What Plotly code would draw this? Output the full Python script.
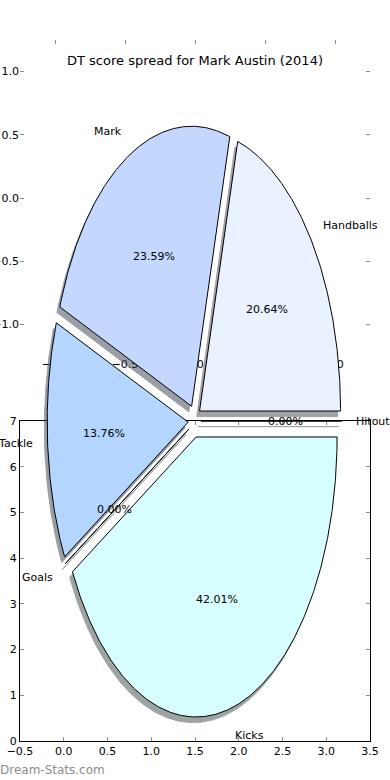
import numpy as np
import plotly.graph_objects as go

# ---------------- data ----------------
labels = ["Handballs", "Mark", "Tackle", "Goals", "Kicks", "Hitout"]
values = [20.64, 23.59, 13.76, 0.00, 42.01, 0.00]
colors = ["#eaf1ff", "#c4d8ff", "#b4d5ff", "#c8ecff", "#d8ffff", "#e4f4ff"]
title = "DT score spread for Mark Austin (2014)"
bottom_x_ticks = [-0.5, 0.0, 0.5, 1.0, 1.5, 2.0, 2.5, 3.0, 3.5]
bottom_y_ticks = [0, 1, 2, 3, 4, 5, 6, 7]
top_ticks = [-1.0, -0.5, 0.0, 0.5, 1.0]
watermark = "Dream-Stats.com"

# ---------------- layout constants ----------------
W, H = 390, 780
PIE_CX, PIE_CY = 194.5, 421.0     # pixel centre of the pie
PIE_RX, PIE_RY = 141.0, 280.0     # pixel radii (pie axes is stretched)
EXPLODE_X, EXPLODE_Y = 0.045, 0.059
SHADOW_DX, SHADOW_DY = -0.02, -0.02
LABEL_R, PCT_R = 1.1, 0.6
FONT = "DejaVu Sans"
TICKCOL = "rgba(0,0,0,0.45)"


def fx(p):
    return p / W


def fy(p):
    return 1 - p / H


def hex_rgb(h):
    h = h.lstrip("#")
    return tuple(int(h[i:i + 2], 16) for i in (0, 2, 4))


fig = go.Figure()

# dummy traces so the two decorative axes systems exist
fig.add_trace(go.Scatter(x=[None], y=[None], xaxis="x", yaxis="y", showlegend=False, hoverinfo="skip"))
fig.add_trace(go.Scatter(x=[None], y=[None], xaxis="x2", yaxis="y2", showlegend=False, hoverinfo="skip"))

total = float(sum(values))
wedges = []
theta = 0.0
for lab, v, col in zip(labels, values, colors):
    t1 = theta
    t2 = theta + 360.0 * v / total
    theta = t2
    tm = np.deg2rad((t1 + t2) / 2)
    ox, oy = EXPLODE_X * np.cos(tm), EXPLODE_Y * np.sin(tm)
    n = max(2, int(abs(t2 - t1) * 2) + 2)
    ang = np.deg2rad(np.linspace(t1, t2, n))
    xs = np.concatenate([[ox], ox + np.cos(ang), [ox]])
    ys = np.concatenate([[oy], oy + np.sin(ang), [oy]])
    wedges.append((lab, v, col, tm, ox, oy, xs, ys))

# shadows (below all wedges)
for lab, v, col, tm, ox, oy, xs, ys in wedges:
    r, g, b = hex_rgb(col)
    sc = "rgb(%d,%d,%d)" % (r * 0.3, g * 0.3, b * 0.3)
    fig.add_trace(go.Scatter(
        x=xs + SHADOW_DX, y=ys + SHADOW_DY, xaxis="x3", yaxis="y3",
        mode="lines", fill="toself", fillcolor=sc,
        line=dict(color=sc, width=1), opacity=0.5,
        showlegend=False, hoverinfo="skip"))

# wedges
for lab, v, col, tm, ox, oy, xs, ys in wedges:
    fig.add_trace(go.Scatter(
        x=xs, y=ys, xaxis="x3", yaxis="y3",
        mode="lines", fill="toself", fillcolor=col,
        line=dict(color="black", width=1),
        showlegend=False, hoverinfo="skip", name=lab))

# labels and percentages
annotations = []
for lab, v, col, tm, ox, oy, xs, ys in wedges:
    xt = ox + LABEL_R * np.cos(tm)
    yt = oy + LABEL_R * np.sin(tm)
    annotations.append(dict(
        x=xt, y=yt, xref="x3", yref="y3", text=lab, showarrow=False,
        xanchor="left" if xt > 0 else "right", yanchor="middle",
        borderpad=0, borderwidth=0,
        font=dict(family=FONT, size=11, color="black")))
    xp = ox + PCT_R * np.cos(tm)
    yp = oy + PCT_R * np.sin(tm)
    annotations.append(dict(
        x=xp, y=yp, xref="x3", yref="y3", text="%1.2f%%" % (100.0 * v / total),
        showarrow=False, xanchor="center", yanchor="middle",
        borderpad=0, borderwidth=0,
        font=dict(family=FONT, size=11, color="black")))

annotations.append(dict(
    x=0.5, y=fy(61), xref="paper", yref="paper", text=title, showarrow=False,
    xanchor="center", yanchor="middle", font=dict(family=FONT, size=13, color="black")))
annotations.append(dict(
    x=0, y=fy(770), xref="paper", yref="paper", text=watermark, showarrow=False,
    xanchor="left", yanchor="middle", borderpad=0, borderwidth=0,
    font=dict(family=FONT, size=12, color="#8c8c8c")))

common = dict(showgrid=False, zeroline=False, ticks="inside", ticklen=4,
              tickwidth=1, tickcolor=TICKCOL, mirror="ticks", automargin=False,
              tickfont=dict(family=FONT, size=11, color="black"), fixedrange=True)

fig.update_layout(
    width=W, height=H,
    margin=dict(l=0, r=0, t=0, b=0, autoexpand=False),
    paper_bgcolor="white", plot_bgcolor="rgba(0,0,0,0)",
    showlegend=False,
    xaxis=dict(domain=[fx(20), fx(370)], range=[-0.5, 3.5], anchor="y",
               tickvals=bottom_x_ticks, tickformat=".1f",
               showline=True, linecolor="black", linewidth=1, **common),
    yaxis=dict(domain=[fy(741), fy(421)], range=[0, 7], anchor="x",
               tickvals=bottom_y_ticks,
               showline=True, linecolor="black", linewidth=1, **common),
    xaxis2=dict(domain=[fx(20), fx(370)], range=[-1.25, 1.25], anchor="y2",
                tickvals=top_ticks, tickformat=".1f", showline=False, **common),
    yaxis2=dict(domain=[fy(356), fy(40)], range=[-1.25, 1.25], anchor="x2",
                tickvals=top_ticks, tickformat=".1f", showline=False, **common),
    xaxis3=dict(domain=[0, 1], anchor="y3", visible=False, fixedrange=True, automargin=False,
                range=[-PIE_CX / PIE_RX, (W - PIE_CX) / PIE_RX]),
    yaxis3=dict(domain=[0, 1], anchor="x3", visible=False, fixedrange=True, automargin=False,
                range=[-(H - PIE_CY) / PIE_RY, PIE_CY / PIE_RY]),
    annotations=annotations,
)

fig.write_html(
    "out.html",
    config={"displayModeBar": False, "responsive": False},
    post_script="document.body.style.margin='0';document.body.style.padding='0';",
)
